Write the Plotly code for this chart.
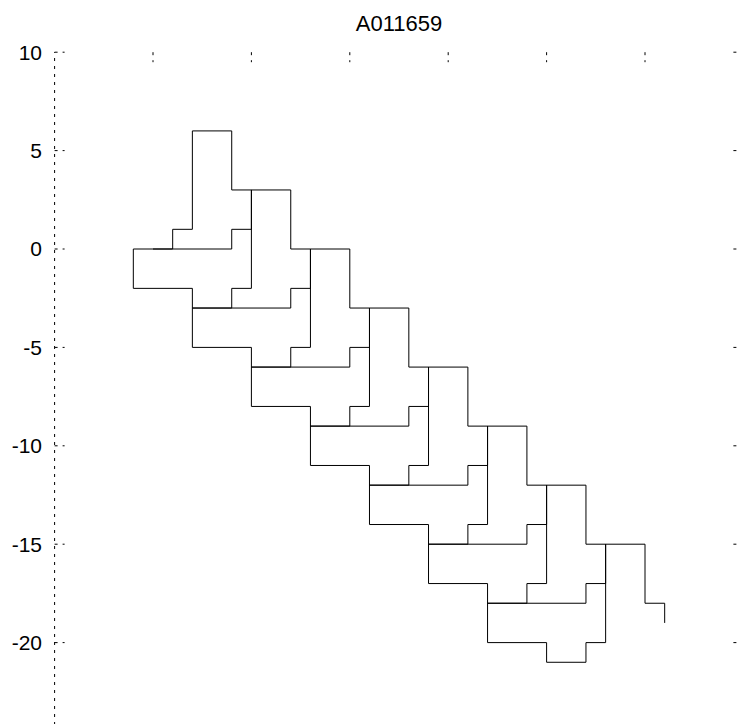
import plotly.graph_objects as go

# ---------------- data ----------------
title_text = "A011659"

# vertices of the lattice walk, in drawing order
walk_x = [5, 4, 4, 7, 7, 10, 10, 13, 13, 16, 16, 19, 19, 22, 22, 25, 25, 27, 27, 28,
          28, 28, 27, 27, 22, 24, 24, 25, 25, 25, 24, 24, 19, 21, 21, 22, 22, 22, 21, 21,
          16, 18, 18, 19, 19, 19, 18, 18, 13, 15, 15, 16, 16, 16, 15, 15, 10, 12, 12, 13,
          13, 13, 12, 12, 7, 9, 9, 10, 10, 10, 9, 9, 6, 5, 6, 6, 7, 7, 9, 9,
          12, 12, 15, 15, 18, 18, 21, 21, 24, 24, 27, 27, 30, 30, 31, 31]
walk_y = [0, 0, -2, -2, -5, -5, -8, -8, -11, -11, -14, -14, -17, -17, -20, -20, -21, -21, -20, -20,
          -15, -17, -17, -18, -18, -18, -17, -17, -12, -14, -14, -15, -15, -15, -14, -14, -9, -11, -11, -12,
          -12, -12, -11, -11, -6, -8, -8, -9, -9, -9, -8, -8, -3, -5, -5, -6, -6, -6, -5, -5,
          0, -2, -2, -3, -3, -3, -2, -2, 3, 1, 1, 0, 0, 0, 0, 1, 1, 6, 6, 3,
          3, 0, 0, -3, -3, -6, -6, -9, -9, -12, -12, -15, -15, -18, -18, -19]

y_tick_vals = [10, 5, 0, -5, -10, -15, -20]
y_tick_text = ["10", "5", "0", "-5", "-10", "-15", "-20"]
x_tick_vals = [5, 10, 15, 20, 25, 30]
x_max = 35
y_min = -25

# ---------------- layout geometry ----------------
W, H = 737, 724
s = 19.68            # pixels per unit
x0px, y0px = 54.6, 249.0
L, T = 45, 40
x_range = [(L - x0px) / s, (W - x0px) / s]
y_range = [(y0px - H) / s, (y0px - T) / s]
tick_len = 10 / s
dot = "3px,5px"
font_family = "Liberation Sans, Arial, Helvetica, sans-serif"

fig = go.Figure()
fig.add_trace(go.Scatter(x=walk_x, y=walk_y, mode="lines",
                         line=dict(color="black", width=1),
                         hoverinfo="skip", showlegend=False))

shapes = []
# dotted left axis
shapes.append(dict(type="line", xref="x", yref="y", x0=0, x1=0, y0=y_min, y1=10,
                   line=dict(color="black", width=1, dash=dot)))
# left and right ticks
for v in y_tick_vals:
    shapes.append(dict(type="line", xref="x", yref="y", x0=0, x1=tick_len, y0=v, y1=v,
                       line=dict(color="black", width=1, dash=dot)))
    shapes.append(dict(type="line", xref="x", yref="y", x0=x_max - tick_len, x1=x_max, y0=v, y1=v,
                       line=dict(color="black", width=1, dash=dot)))
# top ticks
for v in x_tick_vals:
    shapes.append(dict(type="line", xref="x", yref="y", x0=v, x1=v, y0=10, y1=10 - tick_len,
                       line=dict(color="black", width=1, dash=dot)))

fig.update_layout(
    width=W, height=H,
    margin=dict(l=L, r=0, t=T, b=0, pad=0),
    paper_bgcolor="white", plot_bgcolor="white",
    showlegend=False,
    shapes=shapes,
    title=dict(text=title_text, x=399 / W, xanchor="center", xref="container",
               y=1 - 23 / H, yanchor="middle", yref="container",
               font=dict(family=font_family, size=22, color="black")),
    xaxis=dict(range=x_range, visible=False, showgrid=False, zeroline=False, fixedrange=True),
    yaxis=dict(range=y_range, tickvals=y_tick_vals, ticktext=y_tick_text,
               showgrid=False, zeroline=False, showline=False, ticks="",
               tickfont=dict(family=font_family, size=21, color="black"),
               ticklabelstandoff=2, fixedrange=True),
)

fig.write_html("out.html")
